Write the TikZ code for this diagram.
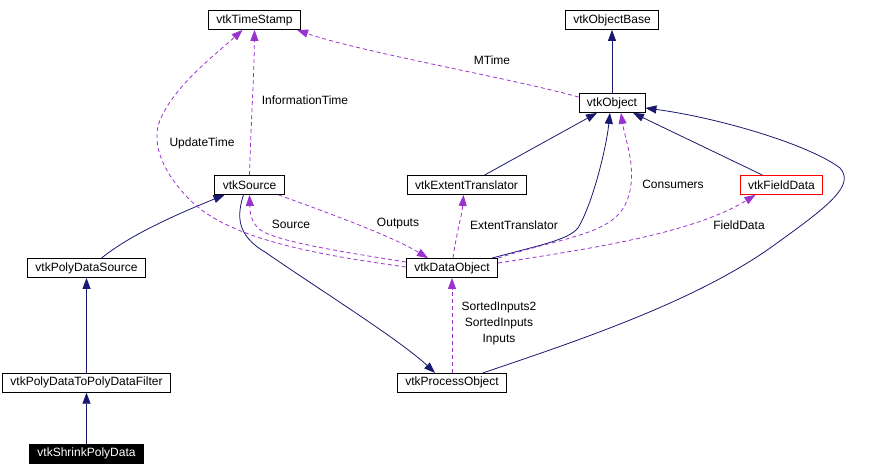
\documentclass[tikz,border=0pt]{standalone}
\usepackage{fontspec}
\setmainfont{Liberation Sans}
\usetikzlibrary{arrows.meta, positioning}
\definecolor{inhcolor}{RGB}{25, 25, 112}
\definecolor{usecolor}{RGB}{154, 50, 205}

\begin{document}
\begin{tikzpicture}[
    x=1pt, y=-1pt,
    cls/.style={rectangle, draw=black, fill=white, line width=0.8pt, inner xsep=8pt, inner ysep=2pt, minimum height=19pt, font=\fontsize{12}{14}\selectfont},
    leaf/.style={cls, fill=black, text=white},
    lbl/.style={align=center, inner sep=0pt, font=\fontsize{12}{16}\selectfont},
    inh/.style={-{Triangle[length=11pt, width=8pt]}, draw=inhcolor, line width=0.8pt},
    usage/.style={-{Triangle[length=11pt, width=8pt]}, draw=usecolor, line width=0.8pt, dash pattern=on 4pt off 3pt}
]
    \useasboundingbox (0,0) rectangle (884,474);

    \node[cls] (vtkTimeStamp) at (254.5,20) {vtkTimeStamp};
    \node[cls] (vtkObjectBase) at (612,20) {vtkObjectBase};
    \node[cls] (vtkObject) at (612,103) {vtkObject};
    \node[cls] (vtkSource) at (249.5,185) {vtkSource};
    \node[cls] (vtkExtentTranslator) at (466.5,185) {vtkExtentTranslator};
    \node[cls, draw=red] (vtkFieldData) at (781.5,185) {vtkFieldData};
    \node[cls] (vtkPolyDataSource) at (86.5,268) {vtkPolyDataSource};
    \node[cls] (vtkDataObject) at (452,268) {vtkDataObject};
    \node[cls, below=95pt of vtkPolyDataSource] (vtkPolyDataToPolyDataFilter) {vtkPolyDataToPolyDataFilter};
    \node[cls, below=95pt of vtkDataObject] (vtkProcessObject) {vtkProcessObject};
    \node[leaf, below=51pt of vtkPolyDataToPolyDataFilter] (vtkShrinkPolyData) {vtkShrinkPolyData};

    % labels
    \node[lbl] (lblMTime) at (492,60) {MTime};
    \node[lbl] (lblInfo) at (305,100) {InformationTime};
    \node[lbl] (lblUpdate) at (202,143) {UpdateTime};
    \node[lbl] (lblSource) at (291,224) {Source};
    \node[lbl] (lblOutputs) at (398,224) {Outputs};
    \node[lbl] (lblExtent) at (514,225) {ExtentTranslator};
    \node[lbl] (lblConsumers) at (673,184) {Consumers};
    \node[lbl] (lblFieldData) at (739,225) {FieldData};
    \node[lbl] (lblInputs) at (499,323) {SortedInputs2\\SortedInputs\\Inputs};

    % inheritance
    \draw[inh] (vtkObject) -- (vtkObjectBase);
    \draw[inh] ([xshift=18pt]vtkExtentTranslator.north) -- ([xshift=-15pt]vtkObject.south);
    \draw[inh] ([xshift=-19pt]vtkFieldData.north) -- ([xshift=21pt]vtkObject.south);
    \draw[inh] ([xshift=40pt]vtkDataObject.north) .. controls (540,245) and (568,240) .. (578,228) .. controls (592,205) and (606,150) .. ([xshift=-2pt]vtkObject.south);
    \draw[inh] ([xshift=31pt]vtkProcessObject.north) .. controls (580,340) and (700,300) .. (777,243) .. controls (830,205) and (855,185) .. (840,168) .. controls (810,145) and (720,118) .. ([yshift=-5pt]vtkObject.east);
    \draw[inh] ([xshift=-6pt]vtkSource.south) .. controls (237,215) and (236,235) .. (265,252) .. controls (320,290) and (400,340) .. ([xshift=-17pt]vtkProcessObject.north);
    \draw[inh] ([xshift=15pt]vtkPolyDataSource.north) .. controls (130,235) and (175,215) .. ([xshift=-25pt]vtkSource.south);
    \draw[inh] (vtkPolyDataToPolyDataFilter) -- (vtkPolyDataSource);
    \draw[inh] (vtkShrinkPolyData) -- (vtkPolyDataToPolyDataFilter);

    % usage
    \draw[usage] ([yshift=6pt]vtkObject.west) .. controls (510,78) and (360,52) .. ([xshift=-4pt]vtkTimeStamp.south east);
    \draw[usage] (vtkSource.north) .. controls (251,120) and (254,80) .. (vtkTimeStamp.south);
    \draw[usage] ([yshift=1pt]vtkDataObject.west) .. controls (320,255) and (230,240) .. (190,200) .. controls (165,175) and (150,145) .. (160,120) .. controls (175,85) and (215,55) .. ([xshift=-12pt]vtkTimeStamp.south);
    \draw[usage] ([yshift=6pt]vtkDataObject.west) .. controls (330,250) and (270,240) .. (258,228) .. controls (250,220) and (250,210) .. (vtkSource.south);
    \draw[usage] ([xshift=-6pt]vtkSource.south east) .. controls (320,210) and (390,235) .. ([xshift=-24pt]vtkDataObject.north);
    \draw[usage] ([xshift=1pt]vtkDataObject.north) .. controls (456,235) and (462,215) .. ([xshift=-3pt]vtkExtentTranslator.south);
    \draw[usage] (vtkDataObject.north east) .. controls (560,238) and (610,235) .. (625,205) .. controls (640,175) and (625,140) .. ([xshift=9pt]vtkObject.south);
    \draw[usage] ([yshift=5pt]vtkDataObject.east) .. controls (580,250) and (690,235) .. ([xshift=-26pt]vtkFieldData.south);
    \draw[usage] (vtkProcessObject) -- (vtkDataObject);
\end{tikzpicture}
\end{document}
